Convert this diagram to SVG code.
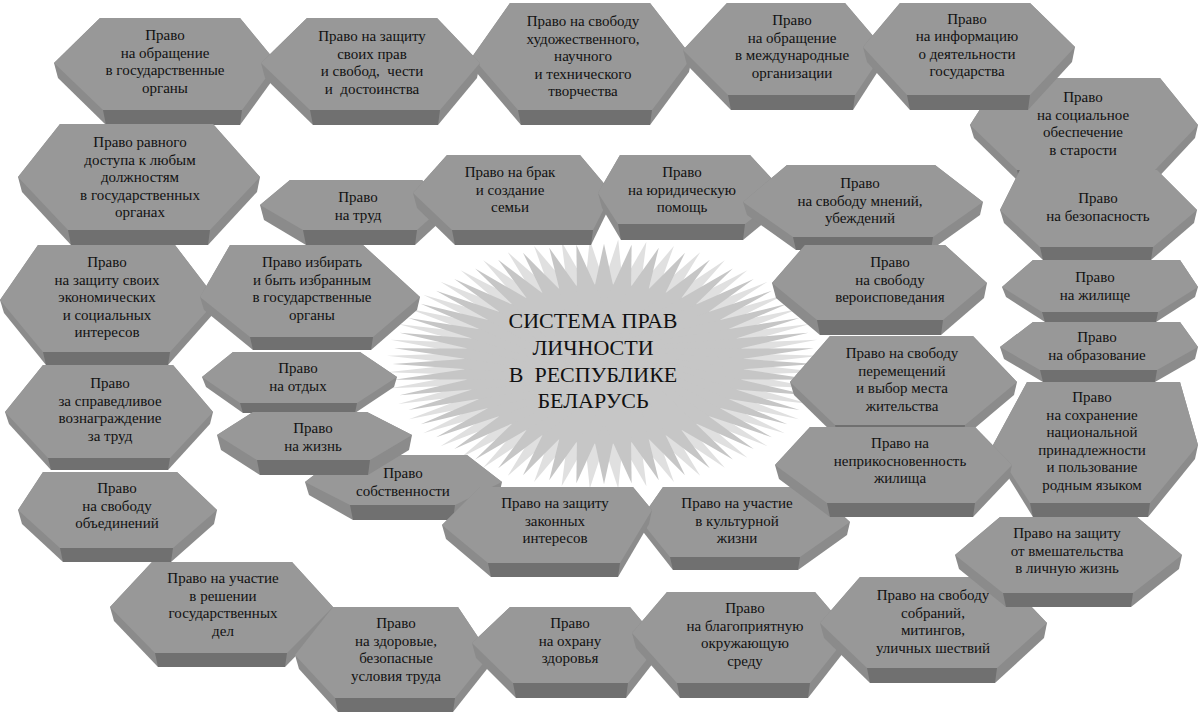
<svg xmlns="http://www.w3.org/2000/svg" xmlns:xlink="http://www.w3.org/1999/xlink" width="1200" height="715" viewBox="0 0 1200 715">
<style>
.s{fill:#8b8b8b}
.f{fill:#989898}
.b{fill:#707070}
.t{font-family:"Liberation Serif","Times New Roman",serif;font-size:15px;fill:#111;text-anchor:middle}
.c{font-family:"Liberation Serif","Times New Roman",serif;font-size:22px;fill:#111;text-anchor:middle}
</style>
<defs>
<polygon id="dm" points="-18,0 0,-145 18,0 0,145"/>
<g id="star">
<circle r="96"/>
<use xlink:href="#dm"/><use xlink:href="#dm" transform="rotate(7.5)"/><use xlink:href="#dm" transform="rotate(15)"/><use xlink:href="#dm" transform="rotate(22.5)"/><use xlink:href="#dm" transform="rotate(30)"/><use xlink:href="#dm" transform="rotate(37.5)"/><use xlink:href="#dm" transform="rotate(45)"/><use xlink:href="#dm" transform="rotate(52.5)"/><use xlink:href="#dm" transform="rotate(60)"/><use xlink:href="#dm" transform="rotate(67.5)"/><use xlink:href="#dm" transform="rotate(75)"/><use xlink:href="#dm" transform="rotate(82.5)"/><use xlink:href="#dm" transform="rotate(90)"/><use xlink:href="#dm" transform="rotate(97.5)"/><use xlink:href="#dm" transform="rotate(105)"/><use xlink:href="#dm" transform="rotate(112.5)"/><use xlink:href="#dm" transform="rotate(120)"/><use xlink:href="#dm" transform="rotate(127.5)"/><use xlink:href="#dm" transform="rotate(135)"/><use xlink:href="#dm" transform="rotate(142.5)"/><use xlink:href="#dm" transform="rotate(150)"/><use xlink:href="#dm" transform="rotate(157.5)"/><use xlink:href="#dm" transform="rotate(165)"/><use xlink:href="#dm" transform="rotate(172.5)"/>
</g>
</defs>
<rect width="1200" height="715" fill="#ffffff"/>
<g id="center">
<g transform="translate(604,364) scale(1.5,0.86) rotate(3.75)" fill="#e0e0e0"><use xlink:href="#star"/></g>
<g transform="translate(604,364) scale(1.46,0.83)" fill="#c6c6c6"><use xlink:href="#star"/></g>
<text class="c" x="593" y="328">СИСТЕМА ПРАВ</text>
<text class="c" x="593" y="355">ЛИЧНОСТИ</text>
<text class="c" x="593" y="382">В&#160; РЕСПУБЛИКЕ</text>
<text class="c" x="593" y="408">БЕЛАРУСЬ</text>
</g>
<g id="connectors"/>
<g id="n6"><polygon class="s" points="970,125 1000,78 1160,78 1198,125 1195,138 1153,183 1020,183 974,138"/><polygon class="f" points="970,125 1000,78 1160,78 1198,125 1155,170 1017,170"/><polygon class="b" points="1017,170 1155,170 1153,183 1020,183"/><text class="t" y="102"><tspan x="1083">Право</tspan><tspan x="1083" dy="17.6">на социальное</tspan><tspan x="1083" dy="17.6">обеспечение</tspan><tspan x="1083" dy="17.6">в старости</tspan></text></g>
<g id="n3"><polygon class="s" points="472,57 510,3 650,3 692,57 689,72 650,125 521,125 476,72"/><polygon class="f" points="472,57 510,3 650,3 692,57 652,110 518,110"/><polygon class="b" points="518,110 652,110 650,125 521,125"/><text class="t" y="26"><tspan x="583">Право на свободу</tspan><tspan x="583" dy="17.6">художественного,</tspan><tspan x="583" dy="17.6">научного</tspan><tspan x="583" dy="17.6">и технического</tspan><tspan x="583" dy="17.6">творчества</tspan></text></g>
<g id="n4"><polygon class="s" points="683,50 727,3 845,3 885,50 882,65 853,110 731,110 687,65"/><polygon class="f" points="683,50 727,3 845,3 885,50 855,95 728,95"/><polygon class="b" points="728,95 855,95 853,110 731,110"/><text class="t" y="25"><tspan x="792">Право</tspan><tspan x="792" dy="17.6">на обращение</tspan><tspan x="792" dy="17.6">в международные</tspan><tspan x="792" dy="17.6">организации</tspan></text></g>
<g id="n5"><polygon class="s" points="863,47 900,3 1030,3 1075,47 1072,62 1028,110 910,110 867,62"/><polygon class="f" points="863,47 900,3 1030,3 1075,47 1030,95 907,95"/><polygon class="b" points="907,95 1030,95 1028,110 910,110"/><text class="t" y="23.5"><tspan x="967">Право</tspan><tspan x="967" dy="17.6">на информацию</tspan><tspan x="967" dy="17.6">о деятельности</tspan><tspan x="967" dy="17.6">государства</tspan></text></g>
<g id="n1"><polygon class="s" points="54,63 100,18 240,18 277,63 274,78 240,125 106,125 58,78"/><polygon class="f" points="54,63 100,18 240,18 277,63 242,110 103,110"/><polygon class="b" points="103,110 242,110 240,125 106,125"/><text class="t" y="40"><tspan x="165">Право</tspan><tspan x="165" dy="17.6">на обращение</tspan><tspan x="165" dy="17.6">в государственные</tspan><tspan x="165" dy="17.6">органы</tspan></text></g>
<g id="n2"><polygon class="s" points="261,63 307,18 437,18 480,63 477,78 438,125 313,125 265,78"/><polygon class="f" points="261,63 307,18 437,18 480,63 440,110 310,110"/><polygon class="b" points="310,110 440,110 438,125 313,125"/><text class="t" y="41"><tspan x="372">Право на защиту</tspan><tspan x="372" dy="17.6">своих прав</tspan><tspan x="372" dy="17.6">и свобод,&#160; чести</tspan><tspan x="372" dy="17.6">и&#160; достоинства</tspan></text></g>
<g id="n20"><polygon class="s" points="18,177 60,124 213,124 260,177 257,192 208,245 71,245 22,192"/><polygon class="f" points="18,177 60,124 213,124 260,177 210,230 68,230"/><polygon class="b" points="68,230 210,230 208,245 71,245"/><text class="t" y="147"><tspan x="140">Право равного</tspan><tspan x="140" dy="17.6">доступа к любым</tspan><tspan x="140" dy="17.6">должностям</tspan><tspan x="140" dy="17.6">в государственных</tspan><tspan x="140" dy="17.6">органах</tspan></text></g>
<g id="n21"><polygon class="s" points="260,205 290,180 422,180 445,205 442,220 415,245 306,245 264,220"/><polygon class="f" points="260,205 290,180 422,180 445,205 417,230 303,230"/><polygon class="b" points="303,230 417,230 415,245 306,245"/><text class="t" y="202"><tspan x="358">Право</tspan><tspan x="358" dy="17.6">на труд</tspan></text></g>
<g id="n22"><polygon class="s" points="413,193 447,155 580,155 612,193 609,208 591,245 455,245 417,208"/><polygon class="f" points="413,193 447,155 580,155 612,193 593,230 452,230"/><polygon class="b" points="452,230 593,230 591,245 455,245"/><text class="t" y="177"><tspan x="510">Право на брак</tspan><tspan x="510" dy="17.6">и создание</tspan><tspan x="510" dy="17.6">семьи</tspan></text></g>
<g id="n23"><polygon class="s" points="598,193 620,155 750,155 785,193 782,208 743,240 621,240 602,208"/><polygon class="f" points="598,193 620,155 750,155 785,193 745,224 618,224"/><polygon class="b" points="618,224 745,224 743,240 621,240"/><text class="t" y="177"><tspan x="682">Право</tspan><tspan x="682" dy="17.6">на юридическую</tspan><tspan x="682" dy="17.6">помощь</tspan></text></g>
<g id="n24"><polygon class="s" points="743,202 787,165 935,165 983,202 980,215 931,250 796,250 747,215"/><polygon class="f" points="743,202 787,165 935,165 983,202 933,237 793,237"/><polygon class="b" points="793,237 933,237 931,250 796,250"/><text class="t" y="188"><tspan x="860">Право</tspan><tspan x="860" dy="17.6">на свободу мнений,</tspan><tspan x="860" dy="17.6">убеждений</tspan></text></g>
<g id="n7"><polygon class="s" points="1000,210 1020,170 1157,170 1197,210 1194,223 1151,260 1043,260 1004,223"/><polygon class="f" points="1000,210 1020,170 1157,170 1197,210 1153,247 1040,247"/><polygon class="b" points="1040,247 1153,247 1151,260 1043,260"/><text class="t" y="203"><tspan x="1098">Право</tspan><tspan x="1098" dy="17.6">на безопасность</tspan></text></g>
<g id="n19"><polygon class="s" points="0,300 38,245 175,245 217,300 214,313 168,365 46,365 4,313"/><polygon class="f" points="0,300 38,245 175,245 217,300 170,352 43,352"/><polygon class="b" points="43,352 170,352 168,365 46,365"/><text class="t" y="267"><tspan x="107">Право</tspan><tspan x="107" dy="17.6">на защиту своих</tspan><tspan x="107" dy="17.6">экономических</tspan><tspan x="107" dy="17.6">и социальных</tspan><tspan x="107" dy="17.6">интересов</tspan></text></g>
<g id="n33"><polygon class="s" points="200,297 230,245 363,245 420,297 417,310 371,350 253,350 204,310"/><polygon class="f" points="200,297 230,245 363,245 420,297 373,337 250,337"/><polygon class="b" points="250,337 373,337 371,350 253,350"/><text class="t" y="267"><tspan x="312">Право избирать</tspan><tspan x="312" dy="17.6">и быть избранным</tspan><tspan x="312" dy="17.6">в государственные</tspan><tspan x="312" dy="17.6">органы</tspan></text></g>
<g id="n25"><polygon class="s" points="772,283 805,245 945,245 987,283 984,298 941,335 820,335 776,298"/><polygon class="f" points="772,283 805,245 945,245 987,283 943,320 817,320"/><polygon class="b" points="817,320 943,320 941,335 820,335"/><text class="t" y="267"><tspan x="890">Право</tspan><tspan x="890" dy="17.6">на свободу</tspan><tspan x="890" dy="17.6">вероисповедания</tspan></text></g>
<g id="n8"><polygon class="s" points="1002,287 1033,260 1180,260 1198,287 1195,297 1156,322 1045,322 1006,297"/><polygon class="f" points="1002,287 1033,260 1180,260 1198,287 1158,312 1042,312"/><polygon class="b" points="1042,312 1158,312 1156,322 1045,322"/><text class="t" y="282"><tspan x="1095">Право</tspan><tspan x="1095" dy="17.6">на жилище</tspan></text></g>
<g id="n9"><polygon class="s" points="1000,347 1033,322 1180,322 1198,347 1195,359 1155,382 1043,382 1004,359"/><polygon class="f" points="1000,347 1033,322 1180,322 1198,347 1157,370 1040,370"/><polygon class="b" points="1040,370 1157,370 1155,382 1043,382"/><text class="t" y="342"><tspan x="1097">Право</tspan><tspan x="1097" dy="17.6">на образование</tspan></text></g>
<g id="n26"><polygon class="s" points="790,382 830,336 973,336 1017,382 1014,395 963,438 838,438 794,395"/><polygon class="f" points="790,382 830,336 973,336 1017,382 965,425 835,425"/><polygon class="b" points="835,425 965,425 963,438 838,438"/><text class="t" y="358"><tspan x="902">Право на свободу</tspan><tspan x="902" dy="17.6">перемещений</tspan><tspan x="902" dy="17.6">и выбор места</tspan><tspan x="902" dy="17.6">жительства</tspan></text></g>
<g id="n32"><polygon class="s" points="202,377 233,352 360,352 397,377 394,387 355,413 243,413 206,387"/><polygon class="f" points="202,377 233,352 360,352 397,377 357,403 240,403"/><polygon class="b" points="240,403 357,403 355,413 243,413"/><text class="t" y="373"><tspan x="298">Право</tspan><tspan x="298" dy="17.6">на отдых</tspan></text></g>
<g id="n18"><polygon class="s" points="5,412 43,365 173,365 213,412 210,424 168,470 51,470 9,424"/><polygon class="f" points="5,412 43,365 173,365 213,412 170,458 48,458"/><polygon class="b" points="48,458 170,458 168,470 51,470"/><text class="t" y="388"><tspan x="110">Право</tspan><tspan x="110" dy="17.6">за справедливое</tspan><tspan x="110" dy="17.6">вознаграждение</tspan><tspan x="110" dy="17.6">за труд</tspan></text></g>
<g id="n10"><polygon class="s" points="993,445 1027,382 1180,382 1198,445 1195,459 1148,517 1033,517 997,459"/><polygon class="f" points="993,445 1027,382 1180,382 1198,445 1150,503 1030,503"/><polygon class="b" points="1030,503 1150,503 1148,517 1033,517"/><text class="t" y="402"><tspan x="1092">Право</tspan><tspan x="1092" dy="17.6">на сохранение</tspan><tspan x="1092" dy="17.6">национальной</tspan><tspan x="1092" dy="17.6">принадлежности</tspan><tspan x="1092" dy="17.6">и пользование</tspan><tspan x="1092" dy="17.6">родным языком</tspan></text></g>
<g id="n30"><polygon class="s" points="305,482 340,455 467,455 502,482 499,495 453,520 353,520 309,495"/><polygon class="f" points="305,482 340,455 467,455 502,482 455,505 350,505"/><polygon class="b" points="350,505 455,505 453,520 353,520"/><text class="t" y="478"><tspan x="403">Право</tspan><tspan x="403" dy="17.6">собственности</tspan></text></g>
<g id="n31"><polygon class="s" points="217,435 253,412 367,412 412,435 409,450 368,475 260,475 221,450"/><polygon class="f" points="217,435 253,412 367,412 412,435 370,460 257,460"/><polygon class="b" points="257,460 370,460 368,475 260,475"/><text class="t" y="433"><tspan x="313">Право</tspan><tspan x="313" dy="17.6">на жизнь</tspan></text></g>
<g id="n28"><polygon class="s" points="640,520 663,487 812,487 850,522 847,535 798,570 673,570 644,533"/><polygon class="f" points="640,520 663,487 812,487 850,522 800,557 670,557"/><polygon class="b" points="670,557 800,557 798,570 673,570"/><text class="t" y="508"><tspan x="737">Право на участие</tspan><tspan x="737" dy="17.6">в культурной</tspan><tspan x="737" dy="17.6">жизни</tspan></text></g>
<g id="n27"><polygon class="s" points="775,465 810,427 975,427 1012,465 1009,479 973,517 830,517 779,479"/><polygon class="f" points="775,465 810,427 975,427 1012,465 975,503 827,503"/><polygon class="b" points="827,503 975,503 973,517 830,517"/><text class="t" y="448"><tspan x="900">Право на</tspan><tspan x="900" dy="17.6">неприкосновенность</tspan><tspan x="900" dy="17.6">жилища</tspan></text></g>
<g id="n17"><polygon class="s" points="18,510 43,472 177,472 217,510 214,524 171,562 63,562 22,524"/><polygon class="f" points="18,510 43,472 177,472 217,510 173,548 60,548"/><polygon class="b" points="60,548 173,548 171,562 63,562"/><text class="t" y="493"><tspan x="117">Право</tspan><tspan x="117" dy="17.6">на свободу</tspan><tspan x="117" dy="17.6">объединений</tspan></text></g>
<g id="n29"><polygon class="s" points="442,525 480,487 633,487 652,510 649,524 618,577 491,577 446,539"/><polygon class="f" points="442,525 480,487 633,487 652,510 620,563 488,563"/><polygon class="b" points="488,563 620,563 618,577 491,577"/><text class="t" y="508"><tspan x="555">Право на защиту</tspan><tspan x="555" dy="17.6">законных</tspan><tspan x="555" dy="17.6">интересов</tspan></text></g>
<g id="n16"><polygon class="s" points="110,607 152,562 292,562 333,607 330,621 285,667 158,667 114,621"/><polygon class="f" points="110,607 152,562 292,562 333,607 287,653 155,653"/><polygon class="b" points="155,653 287,653 285,667 158,667"/><text class="t" y="583"><tspan x="223">Право на участие</tspan><tspan x="223" dy="17.6">в решении</tspan><tspan x="223" dy="17.6">государственных</tspan><tspan x="223" dy="17.6">дел</tspan></text></g>
<g id="n15"><polygon class="s" points="295,655 333,607 458,607 490,655 487,669 453,712 338,712 299,669"/><polygon class="f" points="295,655 333,607 458,607 490,655 455,698 335,698"/><polygon class="b" points="335,698 455,698 453,712 338,712"/><text class="t" y="628"><tspan x="396">Право</tspan><tspan x="396" dy="17.6">на здоровые,</tspan><tspan x="396" dy="17.6">безопасные</tspan><tspan x="396" dy="17.6">условия труда</tspan></text></g>
<g id="n14"><polygon class="s" points="472,643 510,607 630,607 660,643 657,658 626,698 516,698 476,658"/><polygon class="f" points="472,643 510,607 630,607 660,643 628,683 513,683"/><polygon class="b" points="513,683 628,683 626,698 516,698"/><text class="t" y="628"><tspan x="570">Право</tspan><tspan x="570" dy="17.6">на охрану</tspan><tspan x="570" dy="17.6">здоровья</tspan></text></g>
<g id="n13"><polygon class="s" points="632,633 667,592 815,592 850,633 847,648 808,698 680,698 636,648"/><polygon class="f" points="632,633 667,592 815,592 850,633 810,683 677,683"/><polygon class="b" points="677,683 810,683 808,698 680,698"/><text class="t" y="613"><tspan x="745">Право</tspan><tspan x="745" dy="17.6">на благоприятную</tspan><tspan x="745" dy="17.6">окружающую</tspan><tspan x="745" dy="17.6">среду</tspan></text></g>
<g id="n12"><polygon class="s" points="820,623 860,577 1003,577 1047,623 1044,638 995,683 870,683 824,638"/><polygon class="f" points="820,623 860,577 1003,577 1047,623 997,668 867,668"/><polygon class="b" points="867,668 997,668 995,683 870,683"/><text class="t" y="600"><tspan x="933">Право на свободу</tspan><tspan x="933" dy="17.6">собраний,</tspan><tspan x="933" dy="17.6">митингов,</tspan><tspan x="933" dy="17.6">уличных шествий</tspan></text></g>
<g id="n11"><polygon class="s" points="955,555 1000,517 1137,517 1182,555 1179,569 1131,607 1006,607 959,569"/><polygon class="f" points="955,555 1000,517 1137,517 1182,555 1133,593 1003,593"/><polygon class="b" points="1003,593 1133,593 1131,607 1006,607"/><text class="t" y="538"><tspan x="1067">Право на защиту</tspan><tspan x="1067" dy="17.6">от вмешательства</tspan><tspan x="1067" dy="17.6">в личную жизнь</tspan></text></g>
</svg>
